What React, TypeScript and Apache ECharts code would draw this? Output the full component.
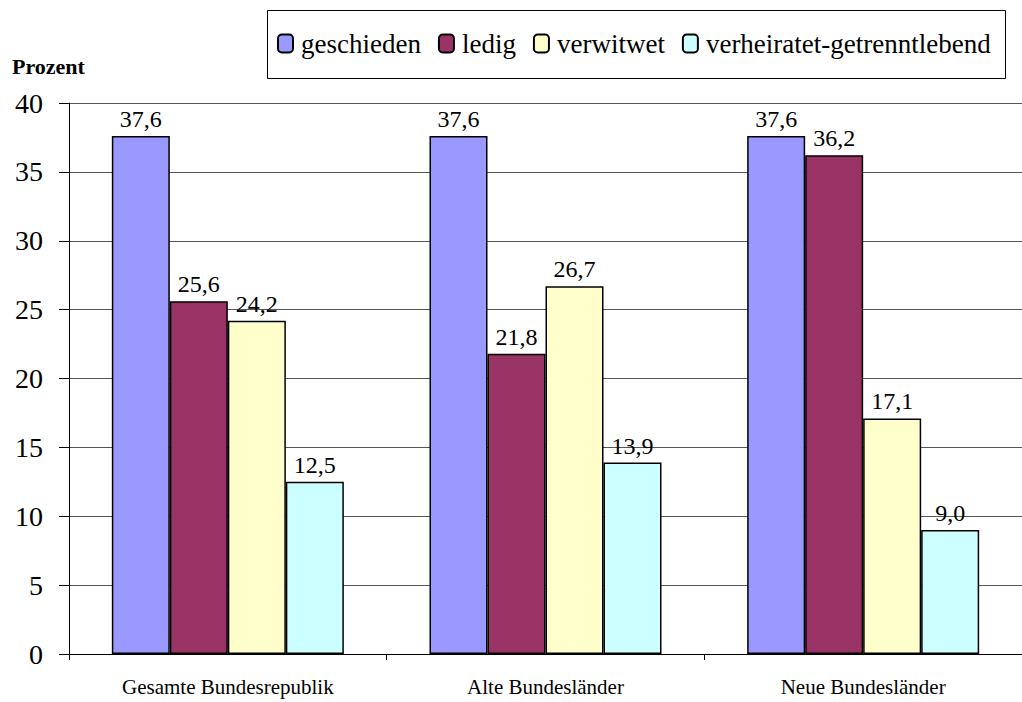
import React, { useEffect, useRef } from "react";
import * as echarts from "echarts";

const categories = ["Gesamte Bundesrepublik", "Alte Bundesländer", "Neue Bundesländer"];
const seriesNames = ["geschieden", "ledig", "verwitwet", "verheiratet-getrenntlebend"];
const geschieden = [37.6, 37.6, 37.6];
const ledig = [25.6, 21.8, 36.2];
const verwitwet = [24.2, 26.7, 17.1];
const getrennt = [12.5, 13.9, 9.0];
const colors = ["#9999FF", "#993366", "#FFFFCC", "#CCFFFF"];
const yTicks = { min: 0, max: 40, interval: 5 };

const FONT = "Liberation Serif, serif";

export default function App() {
  const ref = useRef<HTMLDivElement>(null);
  useEffect(() => {
    if (!ref.current) return;
    const chart = echarts.init(ref.current, null, { renderer: "svg" });
    const values = [geschieden, ledig, verwitwet, getrennt];
    chart.setOption({
      animation: false,
      textStyle: { fontFamily: FONT },
      graphic: [
        {
          type: "rect",
          shape: { x: 267.5, y: 10.5, width: 738, height: 68 },
          style: { fill: "#fff", stroke: "#000", lineWidth: 1 },
          z: 0,
        },
        {
          type: "text",
          left: 12,
          top: 55,
          style: { text: "Prozent", fontFamily: FONT, fontWeight: "bold", fontSize: 22, fill: "#000" },
        },
        {
          type: "line",
          shape: { x1: 69.5, y1: 654, x2: 69.5, y2: 660 },
          style: { stroke: "#000", lineWidth: 1 },
        },
      ],
      legend: {
        left: 277,
        top: 30,
        itemWidth: 15,
        itemHeight: 18,
        itemGap: 17,
        padding: 0,
        data: seriesNames,
        textStyle: { fontFamily: FONT, fontSize: 27, color: "#000", padding: [0, 0, 0, 3] },
        z: 5,
      },
      grid: { left: 69, top: 103, bottom: 48, right: -10, containLabel: false },
      xAxis: {
        type: "category",
        data: categories,
        axisLine: { lineStyle: { color: "#000", width: 1 } },
        axisTick: { show: true, length: 6, lineStyle: { color: "#000" } },
        axisLabel: { fontFamily: FONT, fontSize: 21, color: "#000", margin: 22 },
      },
      yAxis: {
        type: "value",
        min: yTicks.min,
        max: yTicks.max,
        interval: yTicks.interval,
        axisLine: { show: true, lineStyle: { color: "#000", width: 1 } },
        axisTick: { show: true, length: 10, lineStyle: { color: "#000" } },
        axisLabel: { fontFamily: FONT, fontSize: 28, color: "#000", margin: 26 },
        splitLine: { show: true, lineStyle: { color: "#555", width: 1 } },
      },
      series: seriesNames.map((name, i) => ({
        name,
        type: "bar",
        data: values[i],
        barWidth: 58,
        barGap: "0%",
        itemStyle: { color: colors[i], borderColor: "#000", borderWidth: 1.5 },
        label: {
          show: true,
          position: "top",
          distance: 5,
          fontFamily: FONT,
          fontSize: 24,
          color: "#000",
          formatter: (p: any) => Number(p.value).toFixed(1).replace(".", ","),
        },
      })),
    });
    return () => chart.dispose();
  }, []);
  return (
    <div
      ref={ref}
      style={{ position: "fixed", left: 0, top: 0, width: 1022, height: 702, background: "#fff" }}
    />
  );
}
